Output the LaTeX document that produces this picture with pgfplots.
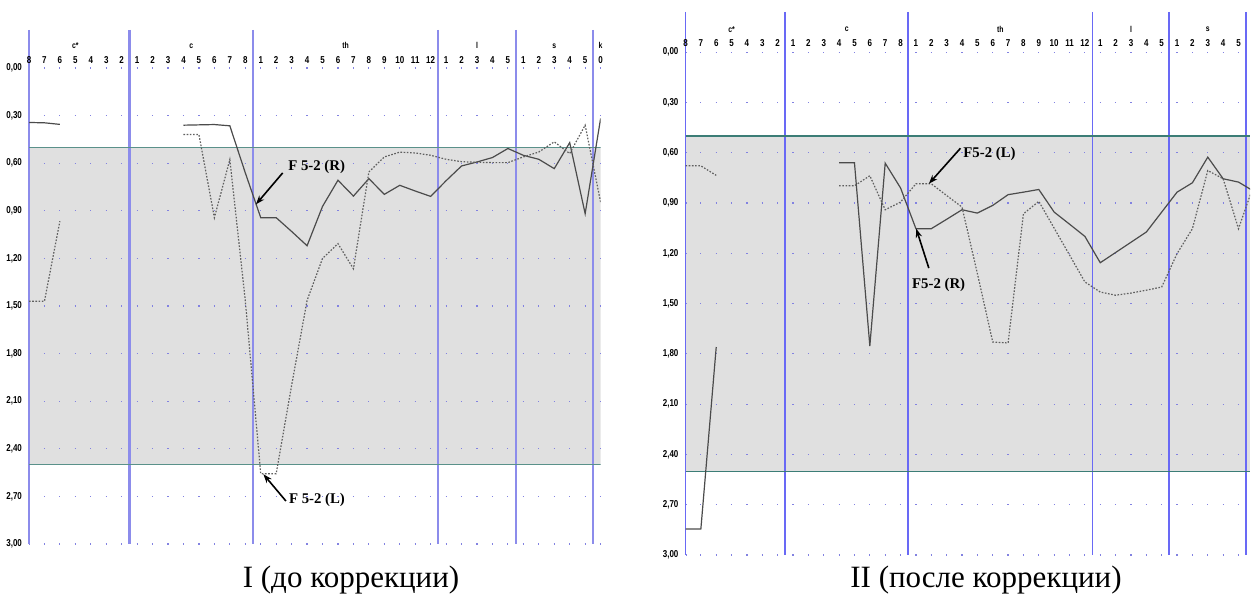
\documentclass[border=0pt]{standalone}
\usepackage{pgfplots}
\pgfplotsset{compat=1.18}
\usepackage{fontspec}
\setmainfont{Liberation Serif}
\newfontfamily\tickfont[FakeStretch=0.8]{Liberation Sans}
\usetikzlibrary{arrows.meta}
\definecolor{vlineA}{RGB}{140,140,235}
\definecolor{vlineB}{RGB}{105,105,245}
\definecolor{bandc}{RGB}{224,224,224}
\definecolor{glineA}{RGB}{90,145,138}
\definecolor{glineB}{RGB}{60,125,118}
\definecolor{dotc}{RGB}{130,130,225}
\definecolor{solidc}{RGB}{75,75,75}
\definecolor{dottedc}{RGB}{95,95,95}
\pgfplotsset{
  panel/.style={
    scale only axis, set layers, y dir=reverse,
    ymin=-0.24, ymax=3.0, xmin=0,
    axis line style={draw=none}, major tick length=0pt,
    ytick={0,0.3,0.6,0.9,1.2,1.5,1.8,2.1,2.4,2.7,3.0},
    y tick label style={/pgf/number format/.cd, fixed, fixed zerofill, precision=2, use comma, assume math mode=true, /tikz/.cd,
      font=\fontsize{5}{6}\selectfont\tickfont\bfseries},
    ymajorgrids,
    xticklabel pos=right,
    x tick label style={anchor=center, font=\fontsize{5}{6}\selectfont\tickfont\bfseries},
    clip=true, clip mode=individual,
  },
}
\tikzset{
  grplab/.style={font=\fontsize{4.3}{5}\selectfont\tickfont\bfseries},
  ann/.style={font=\fontsize{7.4}{8}\selectfont\bfseries},
  arr/.style={-{Stealth[length=4.5pt,width=3.2pt]}, line width=0.8pt, black},
  solidl/.style={solidc, line width=0.6pt},
  dotl/.style={dottedc, line width=0.6pt, dash pattern=on 0.8pt off 0.8pt},
}
\begin{document}
\begin{tikzpicture}
% ---------------- Panel I ----------------
\begin{axis}[panel, at={(14.5pt,30.5pt)}, anchor=south west,
  width=285.8pt, height=257pt, xmax=37,
  xtick={0,...,37},
  xticklabels={8,7,6,5,4,3,2,1,2,3,4,5,6,7,8,1,2,3,4,5,6,7,8,9,10,11,12,1,2,3,4,5,1,2,3,4,5,0},
  x tick label style={yshift=-15pt},
  major grid style={dotc, line width=0.6pt, dash pattern=on 0.6pt off 7.124pt, dash phase=0.3pt},
  extra x ticks={0,6.5,14.5,26.5,31.5,36.5}, extra x tick labels={},
  extra x tick style={grid=major, major grid style={vlineA, line width=1.1pt, solid}},
]
\addplot[on layer=axis background, fill=bandc, draw=none] coordinates {(0,0.5) (37,0.5) (37,2.5) (0,2.5)};
\addplot[glineA, line width=0.7pt] coordinates {(0,0.5) (37,0.5)};
\addplot[glineA, line width=0.7pt] coordinates {(0,2.5) (37,2.5)};
% F 5-2 (R) solid
\addplot[solidl] coordinates {(0,0.343) (1,0.345) (2,0.355)};
\addplot[solidl] coordinates {(10,0.36) (11,0.358) (12,0.356) (13,0.364) (14,0.66) (15,0.943) (16,0.943) (17,1.03) (18,1.12) (19,0.872) (20,0.707) (21,0.807) (22,0.697) (23,0.796) (24,0.739) (25,0.775) (26,0.809) (27,0.71) (28,0.617) (29,0.592) (30,0.564) (31,0.507) (32,0.55) (33,0.575) (34,0.634) (35,0.47) (36,0.918) (37,0.318)};
% F 5-2 (L) dotted
\addplot[dotl] coordinates {(0,1.47) (1,1.47) (2,0.965)};
\addplot[dotl] coordinates {(10,0.419) (11,0.419) (12,0.943) (13,0.577) (14,1.465) (15,2.557) (16,2.557) (17,2.0) (18,1.465) (19,1.20) (20,1.107) (21,1.265) (22,0.655) (23,0.56) (24,0.53) (25,0.535) (26,0.55) (27,0.575) (28,0.59) (29,0.594) (30,0.596) (31,0.596) (32,0.56) (33,0.529) (34,0.465) (35,0.539) (36,0.36) (37,0.845)};
\node[grplab] at (axis cs:3,-0.14) {c*};
\node[grplab] at (axis cs:10.5,-0.14) {c};
\node[grplab] at (axis cs:20.5,-0.14) {th};
\node[grplab] at (axis cs:29,-0.14) {l};
\node[grplab] at (axis cs:34,-0.14) {s};
\node[grplab] at (axis cs:37,-0.14) {k};
\node[ann] at (axis cs:18.62,0.623) {F 5-2 (R)};
\draw[arr] (axis cs:16.42,0.661) -- (axis cs:14.69,0.859);
\node[ann] at (axis cs:18.64,2.725) {F 5-2 (L)};
\draw[arr] (axis cs:16.63,2.729) -- (axis cs:15.17,2.56);
\end{axis}
% ---------------- Panel II ----------------
\begin{axis}[panel, at={(342.75pt,25pt)}, anchor=south west,
  width=282.25pt, height=271.5pt, xmax=36.75,
  xtick={0,...,36},
  xticklabels={8,7,6,5,4,3,2,1,2,3,4,5,6,7,8,1,2,3,4,5,6,7,8,9,10,11,12,1,2,3,4,5,1,2,3,4,5},
  x tick label style={yshift=-15.4pt},
  major grid style={dotc, line width=0.6pt, dash pattern=on 0.6pt off 7.08pt, dash phase=0.3pt},
  extra x ticks={0,6.5,14.5,26.5,31.5,36.5}, extra x tick labels={},
  extra x tick style={grid=major, major grid style={vlineB, line width=0.9pt, solid}},
]
\addplot[on layer=axis background, fill=bandc, draw=none] coordinates {(0,0.5) (36.75,0.5) (36.75,2.5) (0,2.5)};
\addplot[glineB, line width=0.6pt] coordinates {(0,0.5) (36.75,0.5)};
\addplot[glineB, line width=0.6pt] coordinates {(0,2.5) (36.75,2.5)};
% F5-2 (R) solid
\addplot[solidl] coordinates {(0,2.845) (1,2.845) (2,1.759)};
\addplot[solidl] coordinates {(10,0.66) (11,0.66) (12,1.753) (13,0.662) (14,0.81) (15,1.053) (16,1.053) (17,0.997) (18,0.94) (19,0.96) (20,0.914) (21,0.85) (22,0.835) (23,0.819) (24,0.954) (25,1.026) (26,1.099) (27,1.256) (28,1.195) (29,1.134) (30,1.073) (31,0.954) (32,0.835) (33,0.779) (34,0.626) (35,0.755) (36,0.775) (37,0.83)};
% F5-2 (L) dotted
\addplot[dotl] coordinates {(0,0.678) (1,0.678) (2,0.735)};
\addplot[dotl] coordinates {(10,0.797) (11,0.797) (12,0.737) (13,0.94) (14,0.894) (15,0.785) (16,0.785) (17,0.855) (18,0.924) (19,1.32) (20,1.729) (21,1.735) (22,0.964) (23,0.89) (24,1.05) (25,1.21) (26,1.371) (27,1.431) (28,1.45) (29,1.437) (30,1.42) (31,1.401) (32,1.202) (33,1.053) (34,0.706) (35,0.755) (36,1.053) (37,0.79)};
\node[grplab] at (axis cs:3,-0.135) {c*};
\node[grplab] at (axis cs:10.5,-0.135) {c};
\node[grplab] at (axis cs:20.5,-0.135) {th};
\node[grplab] at (axis cs:29,-0.135) {l};
\node[grplab] at (axis cs:34,-0.135) {s};
\node[ann] at (axis cs:19.79,0.606) {F5-2 (L)};
\draw[arr] (axis cs:17.9,0.573) -- (axis cs:15.84,0.785);
\node[ann] at (axis cs:16.48,1.387) {F5-2 (R)};
\draw[arr] (axis cs:15.84,1.288) -- (axis cs:15.02,1.053);
\end{axis}
\node[font=\fontsize{15.5}{18}\selectfont] at (175.5pt,12.5pt) {I (до коррекции)};
\node[font=\fontsize{15.5}{18}\selectfont] at (493pt,12.5pt) {II (после коррекции)};
\pgfresetboundingbox
\useasboundingbox (0,0) rectangle (626pt,302.5pt);
\end{tikzpicture}
\end{document}
